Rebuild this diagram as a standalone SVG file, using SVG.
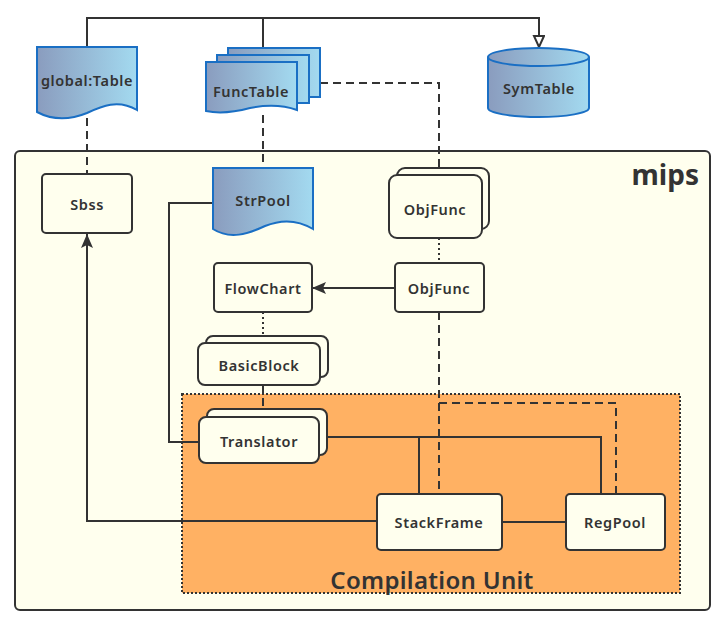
<svg xmlns="http://www.w3.org/2000/svg" width="726" height="626" viewBox="0 0 726 626">
<defs>
<linearGradient id="doc" x1="0" y1="0" x2="1" y2="0">
<stop offset="0" stop-color="#8A9CBE"/>
<stop offset="1" stop-color="#A3DAF0"/>
</linearGradient>
<marker id="hollow" viewBox="0 0 12 16" refX="12" refY="6" markerWidth="12" markerHeight="16" markerUnits="userSpaceOnUse" orient="auto">
<path d="M1,1 L12,6 L1,11 Z" fill="#fff" stroke="#333" stroke-width="2"/>
</marker>
<marker id="solid" viewBox="0 0 14 12" refX="14" refY="6" markerWidth="14" markerHeight="12" markerUnits="userSpaceOnUse" orient="auto">
<path d="M0,0 L14,6 L0,12 L3,6 Z" fill="#333"/>
</marker>
</defs>
<style>
.box{fill:#FFFFEE;stroke:#333;stroke-width:2}
.doc{fill:url(#doc);stroke:#1A6FC4;stroke-width:2}
.ln{fill:none;stroke:#333;stroke-width:2}
.dash{stroke-dasharray:8 5}
.dot{stroke-dasharray:2 3}
text{font-family:"Noto Sans","DejaVu Sans",sans-serif;font-size:14.5px;font-weight:600;letter-spacing:0.6px;fill:#333;text-anchor:middle;dominant-baseline:central}
</style>
<rect id="mips" x="15" y="151" width="695" height="459" rx="5" fill="#FFFFEE" stroke="#333" stroke-width="2"/>
<text x="699" y="174" style="font-size:28px;font-weight:700;letter-spacing:0;text-anchor:end">mips</text>
<g id="compilation-unit">
<rect x="182" y="394" width="498" height="199" fill="#FFB163" stroke="#333" stroke-width="2" stroke-dasharray="2 2"/>
<text x="432" y="579" style="font-size:24px;font-weight:600;letter-spacing:0.3px">Compilation Unit</text>
</g>
<g id="connectors">
<path class="ln" d="M87,47 V18 H539 V47" marker-end="url(#hollow)"/>
<path class="ln" d="M263,18 V48"/>
<path class="ln dash" d="M87,118 V174"/>
<path class="ln dash" d="M263,115 V168"/>
<path class="ln dash" d="M320,83 H439 V168"/>
<path class="ln dot" d="M439,238 V263"/>
<path class="ln dot" d="M263,312 V336"/>
<path class="ln dash" d="M263,385 V409" stroke-dasharray="12 6"/>
<path class="ln" d="M395,288 H312" marker-end="url(#solid)"/>
<path class="ln" d="M213,203 H169 V442 H199"/>
<path class="ln" d="M327,437 H601 V494"/>
<path class="ln" d="M419,437 V494"/>
<path class="ln dash" d="M439,312 V494"/>
<path class="ln dash" d="M439,403 H616 V494"/>
<path class="ln" d="M502,522 H566"/>
<path class="ln" d="M377,521 H87 V234" marker-end="url(#solid)"/>
</g>
<g id="global-table">
<path class="doc" d="M37,47 H137 V110 C118,99 102,106 87,113 C70,120 52,120 37,112 Z"/>
<text x="87" y="80">global:Table</text>
</g>
<g id="functable">
<rect class="doc" x="228" y="48" width="92" height="49"/>
<rect class="doc" x="217" y="55" width="92" height="48"/>
<path class="doc" d="M206,62 H297 V110 C280,104 265,105 250,108 C235,112 220,114 206,111 Z"/>
<text x="251" y="91">FuncTable</text>
</g>
<g id="symtable">
<path class="doc" d="M488,57 V108 A50.5,9 0 0 0 589,108 V57"/>
<ellipse class="doc" cx="538.5" cy="57" rx="50.5" ry="9"/>
<text x="539" y="88">SymTable</text>
</g>
<g id="sbss">
<rect class="box" x="42" y="174" width="90" height="59" rx="4"/>
<text x="87" y="204">Sbss</text>
</g>
<g id="strpool">
<path class="doc" d="M213,168 H313 V229 C298,220 282,219 265,226 C248,234 230,240 213,229 Z"/>
<text x="263" y="200">StrPool</text>
</g>
<g id="objfunc-stack">
<rect class="box" x="397" y="168" width="92" height="61" rx="8"/>
<rect class="box" x="389" y="175" width="93" height="63" rx="8"/>
<text x="435" y="209">ObjFunc</text>
</g>
<g id="objfunc">
<rect class="box" x="395" y="263" width="89" height="49" rx="4"/>
<text x="439" y="288">ObjFunc</text>
</g>
<g id="flowchart">
<rect class="box" x="214" y="263" width="98" height="49" rx="4"/>
<text x="263" y="288">FlowChart</text>
</g>
<g id="basicblock">
<rect class="box" x="206" y="336" width="122" height="41" rx="7"/>
<rect class="box" x="198" y="343" width="122" height="42" rx="7"/>
<text x="259" y="365">BasicBlock</text>
</g>
<g id="translator">
<rect class="box" x="207" y="409" width="120" height="46" rx="7"/>
<rect class="box" x="199" y="417" width="120" height="46" rx="7"/>
<text x="259" y="441">Translator</text>
</g>
<g id="stackframe">
<rect class="box" x="377" y="494" width="125" height="56" rx="4"/>
<text x="439" y="522">StackFrame</text>
</g>
<g id="regpool">
<rect class="box" x="566" y="494" width="99" height="56" rx="4"/>
<text x="615" y="522">RegPool</text>
</g>
</svg>
